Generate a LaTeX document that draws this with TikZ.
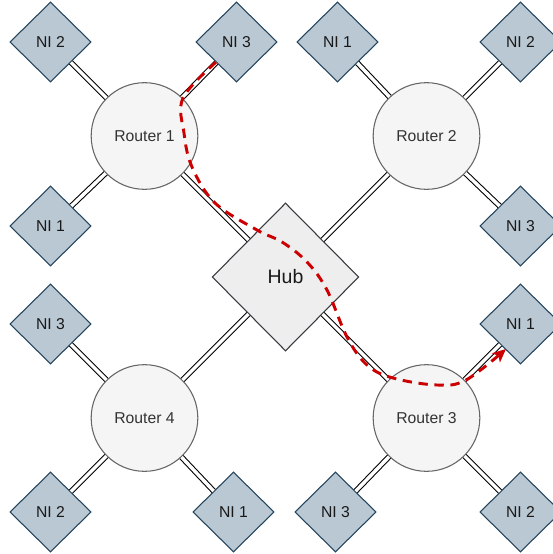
\documentclass[tikz,border=0pt]{standalone}
\usepackage{fontspec}
\setmainfont{Liberation Sans}
\usetikzlibrary{shapes.geometric,arrows.meta}
\definecolor{nifill}{HTML}{BAC8D3}
\definecolor{nidraw}{HTML}{23445D}
\definecolor{rtfill}{HTML}{F5F5F5}
\definecolor{rtdraw}{HTML}{666666}
\definecolor{rttext}{HTML}{333333}
\definecolor{hubfill}{HTML}{EEEEEE}
\definecolor{hubdraw}{HTML}{36393D}
\definecolor{flowred}{HTML}{CC0000}
\tikzset{
  ni/.style={diamond, draw=nidraw, fill=nifill, line width=0.8pt, inner sep=0pt,
    minimum width=61pt, minimum height=60pt, font=\fontsize{11.8}{14}\selectfont, text=black!90},
  router/.style={circle, draw=rtdraw, fill=rtfill, line width=0.8pt, inner sep=0pt,
    minimum size=80pt, font=\fontsize{11.8}{14}\selectfont, text=rttext},
  hub/.style={diamond, draw=hubdraw, fill=hubfill, line width=0.8pt, inner sep=0pt,
    minimum width=110pt, minimum height=111pt, font=\fontsize{14.6}{17}\selectfont, text=black!90},
  link/.style={draw=black, line width=0.8pt, double=white, double distance=2.6pt},
  flow/.style={draw=flowred, line width=2.2pt, dash pattern=on 7pt off 5pt,
    -{Stealth[length=10pt,width=9pt,inset=2.5pt]}}
}
\begin{document}
\begin{tikzpicture}[x=0.75pt,y=-0.75pt]
  \useasboundingbox (0,0) rectangle (553,554);
  \clip (0,0) rectangle (553,554);
  % hub and routers
  \node[hub] (hub) at (285.5,277) {Hub};
  \node[router] (r1) at (144.5,136) {Router 1};
  \node[router] (r2) at (426.5,136) {Router 2};
  \node[router] (r3) at (426.5,418) {Router 3};
  \node[router] (r4) at (144.5,418) {Router 4};
  % network interfaces
  \node[ni] (r1ni2) at (50.5,42) {NI 2};
  \node[ni] (r1ni3) at (236.5,42) {NI 3};
  \node[ni] (r1ni1) at (50.5,226) {NI 1};
  \node[ni] (r2ni1) at (337.5,42) {NI 1};
  \node[ni] (r2ni2) at (520.5,42) {NI 2};
  \node[ni] (r2ni3) at (520.5,226) {NI 3};
  \node[ni] (r3ni1) at (520.5,324) {NI 1};
  \node[ni] (r3ni3) at (335.5,512) {NI 3};
  \node[ni] (r3ni2) at (520.5,512) {NI 2};
  \node[ni] (r4ni3) at (50.5,324) {NI 3};
  \node[ni] (r4ni2) at (50.5,512) {NI 2};
  \node[ni] (r4ni1) at (233.5,512) {NI 1};
  % links
  \foreach \r in {r1,r2,r3,r4}
    \draw[link] (\r) -- (hub);
  \draw[link] (r1) -- (r1ni1);
  \draw[link] (r1) -- (r1ni2);
  \draw[link] (r1) -- (r1ni3);
  \draw[link] (r2) -- (r2ni1);
  \draw[link] (r2) -- (r2ni2);
  \draw[link] (r2) -- (r2ni3);
  \draw[link] (r3) -- (r3ni1);
  \draw[link] (r3) -- (r3ni2);
  \draw[link] (r3) -- (r3ni3);
  \draw[link] (r4) -- (r4ni1);
  \draw[link] (r4) -- (r4ni2);
  \draw[link] (r4) -- (r4ni3);
  % packet route
  \coordinate (src) at (r1ni3.south west);
  \coordinate (dst) at (506,349);
  \draw[flow] plot[smooth, tension=0.6] coordinates {(src) (183,98) (184,133) (192,167)
    (215,203) (257,230) (282,242) (307,262) (327,290) (347,337) (367,365) (393,378)
    (437,385) (466,380) (dst)};
\end{tikzpicture}
\end{document}
